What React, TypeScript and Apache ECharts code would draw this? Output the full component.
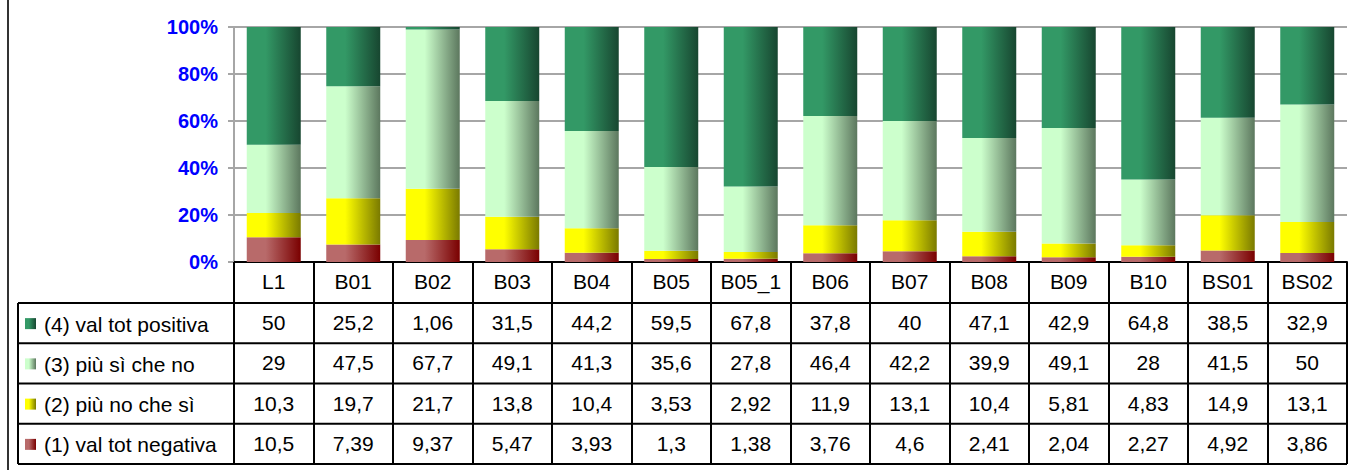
import React, { useEffect, useRef } from "react";
import * as echarts from "echarts";

const categories = ["L1", "B01", "B02", "B03", "B04", "B05", "B05_1", "B06", "B07", "B08", "B09", "B10", "BS01", "BS02"];
const seriesNames = ["(4) val tot positiva", "(3) più sì che no", "(2) più no che sì", "(1) val tot negativa"];
const valPositiva = [50, 25.2, 1.06, 31.5, 44.2, 59.5, 67.8, 37.8, 40, 47.1, 42.9, 64.8, 38.5, 32.9];
const piuSiCheNo = [29, 47.5, 67.7, 49.1, 41.3, 35.6, 27.8, 46.4, 42.2, 39.9, 49.1, 28, 41.5, 50];
const piuNoCheSi = [10.3, 19.7, 21.7, 13.8, 10.4, 3.53, 2.92, 11.9, 13.1, 10.4, 5.81, 4.83, 14.9, 13.1];
const valNegativa = [10.5, 7.39, 9.37, 5.47, 3.93, 1.3, 1.38, 3.76, 4.6, 2.41, 2.04, 2.27, 4.92, 3.86];
const yTickLabels = ["0%", "20%", "40%", "60%", "80%", "100%"];

const tableRows = [valPositiva, piuSiCheNo, piuNoCheSi, valNegativa];
const gradientStops = [
  ["#339966", "#174630"],
  ["#ccffcc", "#5c775e"],
  ["#ffff00", "#7a7a00"],
  ["#b86a6a", "#7a0000"],
];

const FONT = "Liberation Sans, Arial, sans-serif";
const TABLE_FS = 21;

const grad = (i: number) =>
  new echarts.graphic.LinearGradient(0, 0, 1, 0, [
    { offset: 0, color: gradientStops[i][0] },
    { offset: 0.35, color: gradientStops[i][0] },
    { offset: 1, color: gradientStops[i][1] },
  ]);

const fmt = (v: number) => String(v).replace(".", ",");

export default function App() {
  const ref = useRef<HTMLDivElement>(null);
  useEffect(() => {
    if (!ref.current) return;
    const chart = echarts.init(ref.current, null, { renderer: "svg" });
    const totals = categories.map((_, i) => tableRows.reduce((s, r) => s + r[i], 0));
    const pct = (arr: number[]) => arr.map((v, i) => (v / totals[i]) * 100);

    const plotTop = 27;
    const plotBottom = 262;
    const tableLeft = 18;
    const tableRight = 1347;
    const headerBottom = 303;
    const rowH = 40.25;
    const rowLines = [0, 1, 2, 3, 4].map((k) => headerBottom + k * rowH);

    const rowAxes = tableRows.map((row, k) => ({
      type: "category",
      gridIndex: 0,
      data: categories,
      position: "bottom",
      offset: 41 + k * rowH,
      axisLine: { show: false },
      axisTick: { show: false },
      splitLine: { show: false },
      axisLabel: {
        interval: 0,
        margin: 9,
        fontSize: TABLE_FS,
        color: "#000",
        fontFamily: FONT,
        formatter: (_v: string, i: number) => fmt(row[i]),
      },
    }));

    const graphics: any[] = [
      {
        type: "line",
        shape: { x1: 8, y1: 0, x2: 8, y2: 470 },
        style: { stroke: "#333", lineWidth: 2 },
      },
      {
        type: "line",
        shape: { x1: tableLeft, y1: headerBottom, x2: tableLeft, y2: rowLines[4] },
        style: { stroke: "#000", lineWidth: 2 },
      },
      ...rowLines.map((y) => ({
        type: "line",
        shape: { x1: tableLeft, y1: y, x2: tableRight, y2: y },
        style: { stroke: "#000", lineWidth: 2 },
      })),
    ];
    seriesNames.forEach((name, i) => {
      const cy = headerBottom + i * rowH + rowH / 2;
      graphics.push({
        type: "rect",
        shape: { x: 25, y: cy - 5, width: 11, height: 11 },
        style: { fill: grad(i) },
      });
      graphics.push({
        type: "text",
        x: 44,
        y: cy + 1,
        style: {
          text: name,
          font: `${TABLE_FS}px ${FONT}`,
          fill: "#000",
          verticalAlign: "middle",
          align: "left",
        },
      });
    });

    const seriesData = [valNegativa, piuNoCheSi, piuSiCheNo, valPositiva];
    const seriesIdx = [3, 2, 1, 0];

    chart.setOption({
      animation: false,
      grid: { left: 234, right: 2, top: plotTop, bottom: 470 - plotBottom, containLabel: false },
      xAxis: [
        {
          type: "category",
          data: categories,
          position: "bottom",
          axisLine: { show: true, lineStyle: { color: "#000", width: 2 } },
          axisTick: {
            show: true,
            interval: 0,
            length: rowLines[4] - plotBottom,
            lineStyle: { color: "#000", width: 2 },
          },
          axisLabel: {
            interval: 0,
            margin: 9,
            fontSize: TABLE_FS,
            color: "#000",
            fontFamily: FONT,
          },
          splitLine: { show: false },
        },
        ...rowAxes,
      ],
      yAxis: {
        type: "value",
        min: 0,
        max: 100,
        interval: 20,
        axisLine: { show: true, lineStyle: { color: "#a6a6a6", width: 2 } },
        axisTick: { show: true, length: 6, lineStyle: { color: "#a6a6a6", width: 2 } },
        splitLine: { show: true, lineStyle: { color: "#a6a6a6", width: 2 } },
        axisLabel: {
          margin: 16,
          color: "#0000ff",
          fontWeight: "bold",
          fontSize: 20,
          fontFamily: FONT,
          formatter: (v: number) => yTickLabels[Math.round(v / 20)],
        },
      },
      series: seriesData.map((arr, j) => ({
        type: "bar",
        name: seriesNames[seriesIdx[j]],
        stack: "total",
        xAxisIndex: 0,
        barWidth: 54,
        data: pct(arr),
        itemStyle: { color: grad(seriesIdx[j]) },
      })),
      graphic: graphics,
    });
    return () => chart.dispose();
  }, []);
  return (
    <div
      ref={ref}
      style={{ position: "absolute", left: 0, top: 0, width: 1349, height: 470 }}
    />
  );
}
